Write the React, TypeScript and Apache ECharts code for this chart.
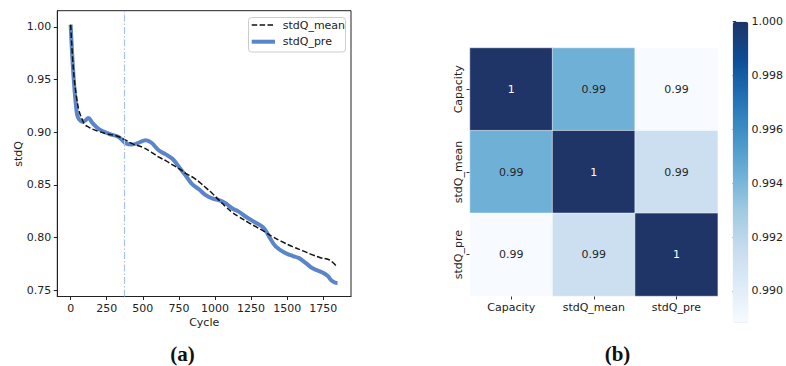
import React, { useEffect, useRef } from 'react';
import * as echarts from 'echarts';

// ---------- data: left line chart ----------
const cycleMean = [0, 20, 40, 58, 80, 100, 127, 160, 196, 250, 288, 330, 381, 430, 497, 560, 612, 659, 700, 751, 797, 850, 890, 940, 982, 1028, 1075, 1120, 1167, 1230, 1283, 1340, 1398, 1460, 1537, 1610, 1676, 1730, 1791, 1820, 1845];
const stdQMean = [1.002, 0.958, 0.934, 0.9205, 0.912, 0.907, 0.9047, 0.9025, 0.9007, 0.8985, 0.8975, 0.896, 0.8925, 0.889, 0.8858, 0.881, 0.8764, 0.873, 0.8695, 0.8655, 0.861, 0.857, 0.853, 0.847, 0.8419, 0.8356, 0.8292, 0.824, 0.8198, 0.8145, 0.8104, 0.806, 0.801, 0.7965, 0.7915, 0.7875, 0.7837, 0.781, 0.779, 0.776, 0.7725];
const cyclePre = [0, 10, 23, 35, 46, 60, 80, 100, 122, 150, 196, 266, 335, 381, 427, 470, 520, 560, 612, 659, 705, 751, 797, 840, 891, 936, 985, 1028, 1075, 1121, 1167, 1214, 1283, 1340, 1375, 1422, 1491, 1540, 1583, 1630, 1676, 1745, 1780, 1803, 1830, 1849];
const stdQPre = [1.002, 0.975, 0.947, 0.928, 0.916, 0.912, 0.910, 0.911, 0.9136, 0.909, 0.903, 0.8985, 0.8953, 0.8896, 0.8884, 0.890, 0.8925, 0.890, 0.8827, 0.879, 0.8749, 0.867, 0.859, 0.851, 0.8457, 0.8403, 0.837, 0.8356, 0.8325, 0.8277, 0.8245, 0.8198, 0.8142, 0.8089, 0.801, 0.7915, 0.7853, 0.7825, 0.7806, 0.7758, 0.7711, 0.767, 0.764, 0.760, 0.7575, 0.757];
const markerCycle = 370;
const xTicks = [0, 250, 500, 750, 1000, 1250, 1500, 1750];
const yTicks = [0.75, 0.8, 0.85, 0.9, 0.95, 1.0];
const legendNames = ['stdQ_mean', 'stdQ_pre'];

// ---------- data: right heatmap ----------
const heatLabels = ['Capacity', 'stdQ_mean', 'stdQ_pre'];
const corrRows = [
  [1, 0.9943, 0.98882],
  [0.9943, 1, 0.99128],
  [0.98882, 0.99128, 1],
];
const cbMin = 0.98882;
const cbMax = 1.0;
const cbTicks = [0.99, 0.992, 0.994, 0.996, 0.998, 1.0];
const blues = ['#f7fbff', '#deebf7', '#c6dbef', '#9ecae1', '#6baed6', '#4292c6', '#2171b5', '#0c4d96', '#1f3467'];

const FONT = 'DejaVu Sans';
const TXT = '#222';
const BLUE = '#5A85C8';
const DASH = [5.5, 2.4];

export default function App() {
  const ref = useRef<HTMLDivElement>(null);
  useEffect(() => {
    const chart = echarts.init(ref.current!, null, { renderer: 'svg' });
    const heatData: any[] = [];
    corrRows.forEach((row, yi) => {
      row.forEach((v, xi) => {
        const t = (v - cbMin) / (cbMax - cbMin);
        heatData.push({ value: [xi, yi, v], label: { color: t > 0.6 ? '#ffffff' : '#262626' } });
      });
    });
    const option: any = {
      animation: false,
      backgroundColor: '#ffffff',
      textStyle: { fontFamily: FONT },
      grid: [
        { left: 57.3, top: 10.7, width: 293.7, height: 285.8, show: true, borderColor: '#222', borderWidth: 1, backgroundColor: 'transparent', containLabel: false },
        { left: 470, top: 48, width: 247.7, height: 248, containLabel: false },
        { left: 732.7, top: 21.7, width: 15.6, height: 301, containLabel: false },
      ],
      xAxis: [
        {
          type: 'value', gridIndex: 0, min: -92.5, max: 1942.5,
          axisLine: { show: true, onZero: false, lineStyle: { color: '#222' } },
          axisTick: { show: true, length: 3.5, customValues: xTicks, lineStyle: { color: '#222' } },
          axisLabel: { customValues: xTicks, formatter: (v: number) => String(v), fontFamily: FONT, fontSize: 11, color: TXT, margin: 6 },
          splitLine: { show: false },
        },
        {
          type: 'category', gridIndex: 1, data: heatLabels,
          axisLine: { show: false },
          axisTick: { show: true, alignWithLabel: true, length: 3.5, lineStyle: { color: '#333' } },
          axisLabel: { fontFamily: FONT, fontSize: 11, color: TXT, margin: 6 },
          splitLine: { show: false }, splitArea: { show: false },
        },
        { type: 'value', gridIndex: 2, show: false, min: 0, max: 1 },
      ],
      yAxis: [
        {
          type: 'value', gridIndex: 0, min: 0.7442, max: 1.0153,
          axisLine: { show: true, onZero: false, lineStyle: { color: '#222' } },
          axisTick: { show: true, length: 3.5, customValues: yTicks, lineStyle: { color: '#222' } },
          axisLabel: { customValues: yTicks, formatter: (v: number) => v.toFixed(2), fontFamily: FONT, fontSize: 11, color: TXT, margin: 6 },
          splitLine: { show: false },
        },
        {
          type: 'category', gridIndex: 1, data: heatLabels, inverse: true,
          axisLine: { show: false },
          axisTick: { show: true, alignWithLabel: true, length: 3.5, lineStyle: { color: '#333' } },
          axisLabel: { rotate: 90, fontFamily: FONT, fontSize: 11, color: TXT, margin: 6 },
          splitLine: { show: false }, splitArea: { show: false },
        },
        {
          type: 'value', gridIndex: 2, position: 'right', min: cbMin, max: cbMax,
          axisLine: { show: false },
          axisTick: { show: true, length: 3.5, customValues: cbTicks, lineStyle: { color: '#333' } },
          axisLabel: { customValues: cbTicks, formatter: (v: number) => v.toFixed(3), fontFamily: FONT, fontSize: 11, color: TXT, margin: 5 },
          splitLine: { show: false },
        },
      ],
      visualMap: {
        type: 'continuous',
        seriesIndex: 2,
        min: cbMin,
        max: cbMax,
        calculable: false,
        orient: 'vertical',
        left: 732.7,
        top: 21.7,
        itemWidth: 15.6,
        itemHeight: 301,
        padding: 0,
        inRange: { color: blues },
      },
      series: [
        {
          name: legendNames[1], type: 'line', xAxisIndex: 0, yAxisIndex: 0,
          data: cyclePre.map((c, i) => [c, stdQPre[i]]),
          smooth: 0.4, showSymbol: false, symbol: 'none',
          lineStyle: { color: BLUE, width: 4, cap: 'butt' },
          itemStyle: { color: BLUE },
          z: 2,
          markLine: {
            silent: true, symbol: 'none', label: { show: false },
            lineStyle: { color: '#a9c6ea', type: [7, 2, 1.5, 2], width: 1.2 },
            data: [{ xAxis: markerCycle }],
          },
        },
        {
          name: legendNames[0], type: 'line', xAxisIndex: 0, yAxisIndex: 0,
          data: cycleMean.map((c, i) => [c, stdQMean[i]]),
          smooth: 0.4, showSymbol: false, symbol: 'none',
          lineStyle: { color: '#111111', width: 1.5, type: DASH },
          itemStyle: { color: '#111111' },
          z: 3,
        },
        {
          type: 'heatmap', xAxisIndex: 1, yAxisIndex: 1,
          data: heatData,
          label: {
            show: true, fontFamily: FONT, fontSize: 11,
            formatter: (p: any) => String(Number(p.value[2].toPrecision(2))),
          },
          itemStyle: { borderColor: '#ffffff', borderWidth: 0.5 },
          emphasis: { disabled: true },
        },
      ],
      graphic: [
        { type: 'text', x: 18.3, y: 154, rotation: Math.PI / 2, style: { text: 'stdQ', fontFamily: FONT, fontSize: 11, fill: TXT, textAlign: 'center', textVerticalAlign: 'middle' } },
        { type: 'text', x: 204.2, y: 322.5, style: { text: 'Cycle', fontFamily: FONT, fontSize: 11, fill: TXT, textAlign: 'center', textVerticalAlign: 'middle' } },
        { type: 'text', x: 182.5, y: 354, style: { text: '(a)', fontFamily: 'Liberation Serif', fontWeight: 'bold', fontSize: 21, fill: '#111', textAlign: 'center', textVerticalAlign: 'middle' } },
        { type: 'text', x: 617.5, y: 354, style: { text: '(b)', fontFamily: 'Liberation Serif', fontWeight: 'bold', fontSize: 21, fill: '#111', textAlign: 'center', textVerticalAlign: 'middle' } },
        // legend
        { type: 'rect', z: 10, shape: { x: 248.5, y: 17.5, width: 97, height: 34.5, r: 3 }, style: { fill: '#ffffff', stroke: '#cccccc', lineWidth: 1 } },
        { type: 'line', z: 11, shape: { x1: 251.7, y1: 25, x2: 275, y2: 25 }, style: { stroke: '#111111', lineWidth: 1.5, lineDash: DASH } },
        { type: 'text', z: 11, x: 282.7, y: 25, style: { text: legendNames[0], fontFamily: FONT, fontSize: 11, fill: TXT, textAlign: 'left', textVerticalAlign: 'middle' } },
        { type: 'line', z: 11, shape: { x1: 251.7, y1: 41.7, x2: 275, y2: 41.7 }, style: { stroke: BLUE, lineWidth: 4 } },
        { type: 'text', z: 11, x: 282.7, y: 41.7, style: { text: legendNames[1], fontFamily: FONT, fontSize: 11, fill: TXT, textAlign: 'left', textVerticalAlign: 'middle' } },
      ],
    };
    chart.setOption(option);
    return () => chart.dispose();
  }, []);
  return (
    <div
      ref={ref}
      style={{ position: 'fixed', left: 0, top: 0, width: 786, height: 366, background: '#ffffff' }}
    />
  );
}
